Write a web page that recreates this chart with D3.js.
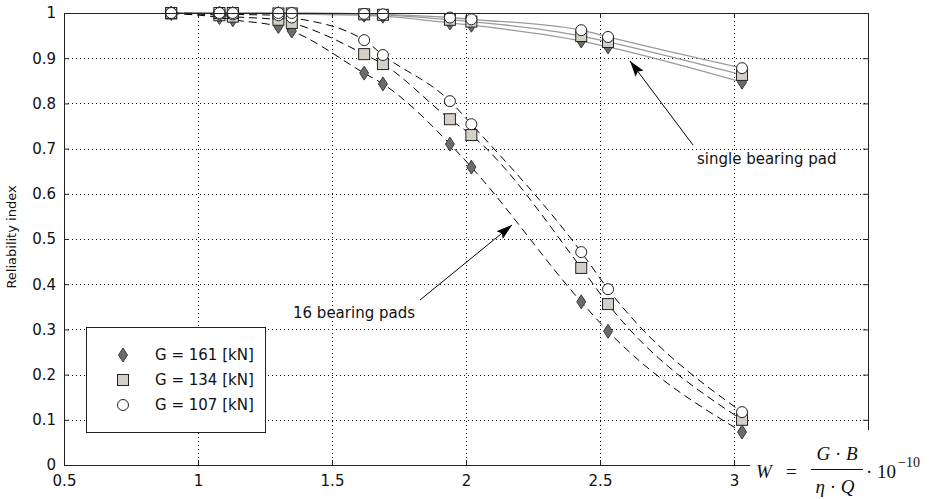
<!DOCTYPE html>
<html><head><meta charset="utf-8">
<script src="https://cdn.jsdelivr.net/npm/d3@7"></script>
<style>body{margin:0;background:#fff}svg{display:block}</style>
</head><body><svg id="c" width="936" height="499"></svg>
<script>
// ---- data ----
const wValues = [0.90, 1.08, 1.13, 1.30, 1.35, 1.62, 1.69, 1.94, 2.02, 2.43, 2.53, 3.03];
const pads16_G161 = [0.999, 0.990, 0.985, 0.970, 0.960, 0.867, 0.843, 0.710, 0.659, 0.361, 0.296, 0.073];
const pads16_G134 = [0.999, 0.995, 0.992, 0.985, 0.978, 0.909, 0.887, 0.765, 0.730, 0.436, 0.356, 0.100];
const pads16_G107 = [1.000, 0.998, 0.997, 0.995, 0.990, 0.940, 0.907, 0.805, 0.754, 0.471, 0.389, 0.117];
const single_G161 = [1.000, 1.000, 0.999, 0.999, 0.998, 0.995, 0.993, 0.978, 0.973, 0.938, 0.925, 0.847];
const single_G134 = [1.000, 1.000, 1.000, 0.999, 0.999, 0.997, 0.996, 0.985, 0.981, 0.949, 0.936, 0.863];
const single_G107 = [1.000, 1.000, 1.000, 1.000, 1.000, 0.998, 0.997, 0.990, 0.986, 0.962, 0.947, 0.878];
const seriesNames = ["G = 161 [kN]", "G = 134 [kN]", "G = 107 [kN]"];
const xTicks = [0.5, 1, 1.5, 2, 2.5, 3, 3.5];
const xTickLabels = ["0.5", "1", "1.5", "2", "2.5", "3", ""];
const yTicks = [0, 0.1, 0.2, 0.3, 0.4, 0.5, 0.6, 0.7, 0.8, 0.9, 1];
const yTickLabels = ["0", "0.1", "0.2", "0.3", "0.4", "0.5", "0.6", "0.7", "0.8", "0.9", "1"];

// ---- layout ----
const L = 64, R = 868, T = 13, B = 465;
const svg = d3.select("#c");
const x = d3.scaleLinear().domain([0.5, 3.5]).range([L, R]);
const y = d3.scaleLinear().domain([0, 1]).range([B, T]);
const FONT = "'DejaVu Sans', sans-serif";

// grid
const grid = svg.append("g").attr("stroke", "#000").attr("stroke-width", 1).attr("stroke-dasharray", "1,3");
xTicks.slice(1, -1).forEach(v => grid.append("line").attr("x1", x(v) + 0.5).attr("x2", x(v) + 0.5).attr("y1", T).attr("y2", B));
yTicks.slice(1, -1).forEach(v => grid.append("line").attr("y1", Math.round(y(v)) + 0.5).attr("y2", Math.round(y(v)) + 0.5).attr("x1", L).attr("x2", R));

// lines
const lineGen = d3.line().x(d => x(d[0])).y(d => y(d[1])).curve(d3.curveMonotoneX);
const singles = [single_G161, single_G134, single_G107];
const pads = [pads16_G161, pads16_G134, pads16_G107];
singles.forEach(s => svg.append("path").datum(wValues.map((w, i) => [w, s[i]]))
  .attr("d", lineGen).attr("fill", "none").attr("stroke", "#9a9a9a").attr("stroke-width", 1.3));
pads.forEach(s => svg.append("path").datum(wValues.map((w, i) => [w, s[i]]))
  .attr("d", lineGen).attr("fill", "none").attr("stroke", "#000").attr("stroke-width", 1).attr("stroke-dasharray", "8,5"));

// markers
function drawMarker(g, type, cx, cy) {
  if (type === 0) {
    g.append("path").attr("d", `M${cx},${cy - 7}L${cx + 4.5},${cy}L${cx},${cy + 7}L${cx - 4.5},${cy}Z`)
      .attr("fill", "#6b6b6b").attr("stroke", "#3c3c3c").attr("stroke-width", 1);
  } else if (type === 1) {
    g.append("rect").attr("x", cx - 5.5).attr("y", cy - 5.5).attr("width", 11).attr("height", 11)
      .attr("fill", "#d4d0c8").attr("stroke", "#222").attr("stroke-width", 1);
  } else {
    g.append("circle").attr("cx", cx).attr("cy", cy).attr("r", 5.5)
      .attr("fill", "#fff").attr("stroke", "#222").attr("stroke-width", 1);
  }
}
const mk = svg.append("g");
[0, 1, 2].forEach(t => {
  wValues.forEach((w, i) => drawMarker(mk, t, x(w), y(pads[t][i])));
  wValues.forEach((w, i) => drawMarker(mk, t, x(w), y(singles[t][i])));
});

// axes with inward ticks
const fmtX = (d, i) => xTickLabels[i];
const fmtY = (d, i) => yTickLabels[i];
const axB = svg.append("g").attr("transform", `translate(0,${B})`)
  .call(d3.axisBottom(x).tickValues(xTicks).tickFormat(fmtX).tickSizeInner(-5).tickSizeOuter(0).tickPadding(10));
const axL = svg.append("g").attr("transform", `translate(${L},0)`)
  .call(d3.axisLeft(y).tickValues(yTicks).tickFormat(fmtY).tickSizeInner(-5).tickSizeOuter(0).tickPadding(8));
const axT = svg.append("g").attr("transform", `translate(0,${T})`)
  .call(d3.axisTop(x).tickValues(xTicks).tickFormat("").tickSizeInner(-5).tickSizeOuter(0));
const axR = svg.append("g").attr("transform", `translate(${R},0)`)
  .call(d3.axisRight(y).tickValues(yTicks).tickFormat("").tickSizeInner(-5).tickSizeOuter(0));
[axB, axL, axT, axR].forEach(a => {
  a.selectAll("path.domain").attr("stroke", "#222");
  a.selectAll("line").attr("stroke", "#222");
  a.selectAll("text").attr("font-family", FONT).attr("font-size", 15).attr("fill", "#111");
});

// y label
svg.append("text").attr("transform", `translate(16,${(T + B) / 2 - 2}) rotate(-90)`)
  .attr("text-anchor", "middle").attr("font-family", FONT).attr("font-size", 13).attr("fill", "#111")
  .text("Reliability index");

// arrows
const defs = svg.append("defs");
defs.append("marker").attr("id", "ah").attr("viewBox", "0 0 16 10").attr("refX", 16).attr("refY", 5)
  .attr("markerWidth", 16).attr("markerHeight", 10).attr("markerUnits", "userSpaceOnUse").attr("orient", "auto")
  .append("path").attr("d", "M0,0L16,5L0,10L3,5Z").attr("fill", "#000");
svg.append("line").attr("x1", 693).attr("y1", 145).attr("x2", 630).attr("y2", 61)
  .attr("stroke", "#000").attr("stroke-width", 1).attr("marker-end", "url(#ah)");
svg.append("text").attr("x", 697).attr("y", 164).attr("font-family", FONT).attr("font-size", 15).attr("fill", "#111")
  .text("single bearing pad");
svg.append("line").attr("x1", 420).attr("y1", 300).attr("x2", 512).attr("y2", 225)
  .attr("stroke", "#000").attr("stroke-width", 1).attr("marker-end", "url(#ah)");
svg.append("text").attr("x", 293).attr("y", 318).attr("font-family", FONT).attr("font-size", 15).attr("fill", "#111")
  .text("16 bearing pads");

// legend
const lg = svg.append("g");
lg.append("rect").attr("x", 86.5).attr("y", 327.5).attr("width", 179).attr("height", 105)
  .attr("fill", "#fff").attr("stroke", "#222").attr("stroke-width", 1);
const rowsY = [355, 380, 405];
seriesNames.forEach((n, i) => {
  drawMarker(lg, i, 123, rowsY[i]);
  lg.append("text").attr("x", 155).attr("y", rowsY[i] + 5).attr("font-family", FONT).attr("font-size", 15)
    .attr("fill", "#111").text(n);
});

// formula label (white box covering the corner)
svg.append("rect").attr("x", 750).attr("y", 430).attr("width", 186).attr("height", 69).attr("fill", "#fff");
const SERIF = "'Liberation Serif', 'Times New Roman', serif";
const f = svg.append("g").attr("font-family", SERIF).attr("fill", "#111");
f.append("text").attr("x", 756).attr("y", 478).attr("font-size", 19).attr("font-style", "italic").text("W");
f.append("text").attr("x", 786).attr("y", 478).attr("font-size", 19).text("=");
f.append("text").attr("x", 837).attr("y", 460).attr("font-size", 19).attr("text-anchor", "middle")
  .html('<tspan font-style="italic">G</tspan> · <tspan font-style="italic">B</tspan>');
f.append("line").attr("x1", 811).attr("x2", 863).attr("y1", 469.5).attr("y2", 469.5).attr("stroke", "#111").attr("stroke-width", 1);
f.append("text").attr("x", 835).attr("y", 493).attr("font-size", 19).attr("text-anchor", "middle")
  .html('<tspan font-style="italic">η</tspan> · <tspan font-style="italic">Q</tspan>');
f.append("text").attr("x", 866).attr("y", 478).attr("font-size", 19).text("· 10");
f.append("text").attr("x", 898).attr("y", 467).attr("font-size", 14).text("−10");
</script>
</body></html>
